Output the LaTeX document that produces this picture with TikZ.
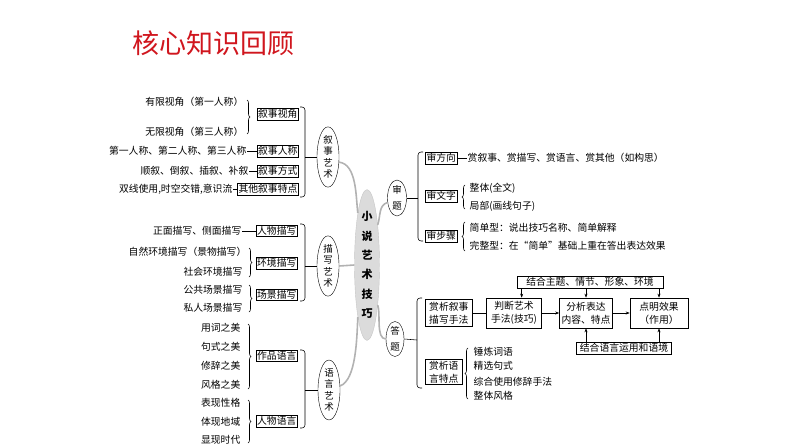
\documentclass[tikz,border=0pt]{standalone}
\usepackage{fontspec}
\setmainfont{Noto Sans CJK SC}
\usetikzlibrary{shapes.geometric,arrows.meta,decorations.pathreplacing,calc}
\definecolor{titlered}{RGB}{208,22,30}
\begin{document}
\begin{tikzpicture}[x=1pt,y=-1pt,
 every node/.style={font=\fontsize{9.8}{11}\selectfont},
 txt/.style={inner sep=0.5pt},
 box/.style={draw, inner sep=1.3pt, line width=0.65pt},
 fbox/.style={draw, inner sep=1.3pt, line width=0.65pt, align=center, font=\fontsize{9.8}{13}\selectfont},
 ell/.style={draw, ellipse, fill=white, inner sep=0pt, minimum width=22pt, minimum height=52pt, align=center, font=\fontsize{9.5}{11.3}\selectfont},
 ln/.style={line width=0.55pt},
 brk/.style={line width=0.55pt, rounded corners=3pt},
 brc/.style={line width=0.55pt, decorate, decoration={brace, amplitude=3pt}},
 gc/.style={draw=gray!60, line width=1.6pt},
 arr/.style={line width=0.55pt, -{Stealth[length=4pt,width=3pt]}}
]
\useasboundingbox (0,0) rectangle (794,447);

% title
\node[font=\fontsize{27}{30}\selectfont, text=titlered] (title) at (213,43) {核心知识回顾};

% central node
\node[draw=gray!45, fill=gray!28, ellipse, minimum width=25pt, minimum height=136pt, inner sep=0pt, align=center, font=\fontsize{11}{19.3}\selectfont\bfseries] (c) at (367,265) {小\\说\\艺\\术\\技\\巧};

% secondary ellipses
\node[ell] (e1) at (328,157) {叙\\事\\艺\\术};
\node[ell] (e2) at (328,266) {描\\写\\艺\\术};
\node[ell] (e3) at (329,390) {语\\言\\艺\\术};
\node[ell, minimum width=19pt, minimum height=36pt, font=\fontsize{9.5}{16}\selectfont] (e4) at (397,198) {审\\题};
\node[ell, minimum width=18pt, minimum height=34pt, font=\fontsize{9.5}{16}\selectfont] (e5) at (395,339) {答\\题};

% gray connectors
\draw[gc] (e1.-25) .. controls +(18,2) and +(-2,-15) .. (c.100);
\draw[gc] (e2.east) -- (c.west);
\draw[gc] (e3.20) .. controls +(16,-6) and +(-1,22) .. (c.-100);
\draw[gc] (e4.205) .. controls +(-9,3) and +(3,-10) .. (c.75);
\draw[gc] (e5.west) .. controls +(-10,0) and +(3,8) .. (c.-75);

% ===== 叙事艺术 =====
\node[box, anchor=east] (b11) at (299,114) {叙事视角};
\node[box, anchor=east] (b12) at (299,151) {叙事人称};
\node[box, anchor=east] (b13) at (299,171) {叙事方式};
\node[box, anchor=east] (b14) at (299,189) {其他叙事特点};
\node[txt, anchor=east] (t11) at (244,102) {有限视角（第一人称）};
\node[txt, anchor=east] (t12) at (244,132) {无限视角（第三人称）};
\node[txt, anchor=east] (t13) at (247,151) {第一人称、第二人称、第三人称};
\node[txt, anchor=east] (t14) at (249,171) {顺叙、倒叙、插叙、补叙};
\node[txt, anchor=east] (t15) at (233,189) {双线使用,时空交错,意识流};
\draw[brc] (247,100) -- (247,134);
\draw[ln] (t13.east) -- (b12.west);
\draw[ln] (t14.east) -- (b13.west);
\draw[ln] (t15.east) -- (b14.west);
\coordinate (k1) at (305,157);
\draw[brk] (300,107) -- (305,107) -- (305,197) -- (300,197);
\draw[ln] (k1) -- (e1.west);

% ===== 描写艺术 =====
\node[box, anchor=east] (b21) at (298,231) {人物描写};
\node[box, anchor=east] (b22) at (298,263) {环境描写};
\node[box, anchor=east] (b23) at (298,295) {场景描写};
\node[txt, anchor=east] (t21) at (242,231) {正面描写、侧面描写};
\node[txt, anchor=east] (t22) at (247,252) {自然环境描写（景物描写）};
\node[txt, anchor=east] (t23) at (243,272) {社会环境描写};
\node[txt, anchor=east] (t24) at (243,290) {公共场景描写};
\node[txt, anchor=east] (t25) at (243,308) {私人场景描写};
\draw[ln] (t21.east) -- (b21.west);
\draw[brc] (249,248) -- (249,277);
\draw[brc] (249,285) -- (249,312);
\coordinate (k2) at (305,266);
\draw[brk] (300,224) -- (305,224) -- (305,301) -- (300,301);
\draw[ln] (k2) -- (e2.west);

% ===== 语言艺术 =====
\node[box, anchor=east] (b31) at (298,356) {作品语言};
\node[box, anchor=east] (b32) at (298,421) {人物语言};
\node[txt, anchor=east] (t31) at (241,328) {用词之美};
\node[txt, anchor=east] (t32) at (241,347) {句式之美};
\node[txt, anchor=east] (t33) at (241,366) {修辞之美};
\node[txt, anchor=east] (t34) at (241,385) {风格之美};
\node[txt, anchor=east] (t35) at (241,403) {表现性格};
\node[txt, anchor=east] (t36) at (241,422) {体现地域};
\node[txt, anchor=east] (t37) at (241,440) {显现时代};
\draw[brc] (248,324) -- (248,389);
\draw[brc] (248,400) -- (248,443);
\coordinate (k3) at (305,390);
\draw[brk] (300,350) -- (305,350) -- (305,428) -- (300,428);
\draw[ln] (k3) -- (e3.west);

% ===== 审题 =====
\node[box, anchor=west] (b41) at (425,158) {审方向};
\node[box, anchor=west] (b42) at (425,196) {审文字};
\node[box, anchor=west] (b43) at (425,236) {审步骤};
\node[txt, anchor=west] (t41) at (467,158) {赏叙事、赏描写、赏语言、赏其他（如构思）};
\node[txt, anchor=west] (t42) at (469,188) {整体(全文)};
\node[txt, anchor=west] (t43) at (469,206) {局部(画线句子)};
\node[txt, anchor=west] (t44) at (469,228) {简单型：说出技巧名称、简单解释};
\node[txt, anchor=west] (t45) at (469,246) {完整型：在“简单”基础上重在答出表达效果};
\draw[ln] (b41.east) -- (t41.west);
\draw[brc] (465,209) -- (465,185);
\draw[brc] (465,251) -- (465,222);
\coordinate (k4) at (418,198);
\draw[brk] (423,152) -- (418,152) -- (418,241) -- (423,241);
\draw[ln] (e4.east) -- (k4);

% ===== 答题 =====
\node[fbox, anchor=west, minimum width=47pt, minimum height=27pt] (a1) at (425,313) {赏析叙事\\描写手法};
\node[fbox, minimum width=55pt, minimum height=30pt] (a2) at (514,313) {判断艺术\\手法(技巧)};
\node[fbox, minimum width=53pt, minimum height=30pt] (a3) at (586,313) {分析表达\\内容、特点};
\node[fbox, minimum width=58pt, minimum height=30pt] (a4) at (659,313) {点明效果\\（作用）};
\node[box, minimum width=146pt] (top) at (590,282) {结合主题、情节、形象、环境};
\node[box, minimum width=95pt] (bot) at (624,348) {结合语言运用和语境};
\node[fbox, anchor=west, minimum width=37pt, minimum height=25pt] (a5) at (425,372) {赏析语\\言特点};
\draw[ln] (a1.east) -- (a2.west);
\draw[arr] (a2.east) -- (a3.west);
\draw[arr] (a3.east) -- (a4.west);
\draw[arr] ([xshift=5pt]top.south west) -- ([xshift=5pt]top.south west |- a2.north);
\draw[arr] (top.south -| a3.north) -- (a3.north);
\draw[arr] (top.south -| a4.north) -- (a4.north);
\draw[arr] (bot.north -| a3.south) -- (a3.south);
\draw[arr] (bot.north -| a4.south) -- (a4.south);
\node[txt, anchor=west] (t51) at (473,352) {锤炼词语};
\node[txt, anchor=west] (t52) at (473,366) {精选句式};
\node[txt, anchor=west] (t53) at (473,382) {综合使用修辞手法};
\node[txt, anchor=west] (t54) at (473,396) {整体风格};
\draw[brc] (468,399) -- (468,348);
\coordinate (k5) at (417,340);
\draw[brk] (422,298) -- (417,298) -- (417,388) -- (422,388);
\draw[ln] (e5.east) -- (k5);
\end{tikzpicture}
\end{document}
